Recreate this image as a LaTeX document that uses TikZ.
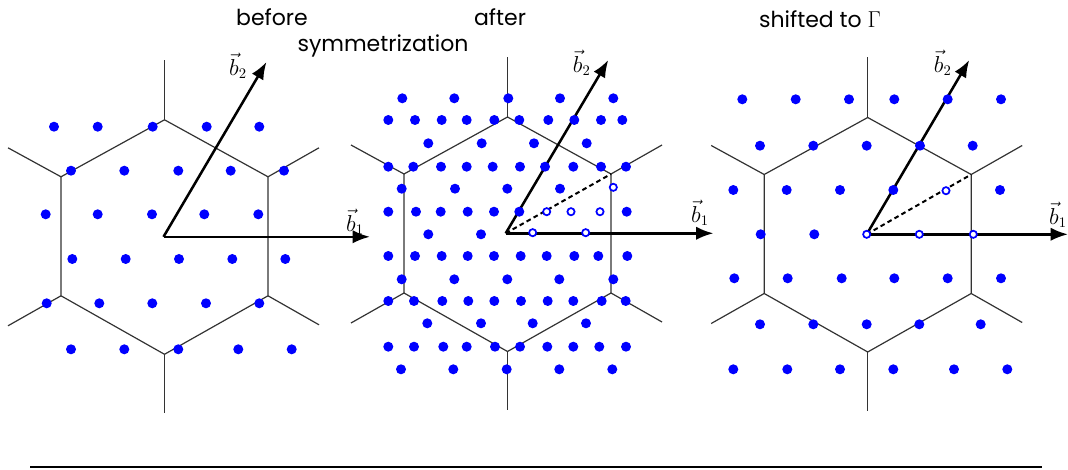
\documentclass[tikz,border=0pt]{standalone}
\usepackage{fontspec}
\newfontfamily\lblfont{Poppins}
\usetikzlibrary{arrows.meta}
\tikzset{
  hexline/.style={draw=black!80, line width=0.9pt},
  vecarrow/.style={draw=black, line width=1.9pt, -{Latex[length=13pt,width=10pt]}},
  dashline/.style={draw=black, line width=1.5pt, dash pattern=on 3.5pt off 2.5pt},
  dotfill/.style={fill=blue},
  opendot/.style={draw=blue, line width=1.3pt, fill=white},
  title/.style={font=\lblfont\fontsize{16.5}{19}\selectfont, inner sep=0pt},
  veclabel/.style={font=\fontsize{16}{19}\selectfont, inner sep=0pt},
  bzone/.pic={
    \coordinate (-t) at (0,-117);
    \coordinate (-ur) at (103.5,-60);
    \coordinate (-lr) at (103.5,59);
    \coordinate (-b) at (0,117.5);
    \coordinate (-ll) at (-103.5,59);
    \coordinate (-ul) at (-103.5,-60);
    \draw[hexline] (-t) -- (-ur) -- (-lr) -- (-b) -- (-ll) -- (-ul) -- cycle;
    \draw[hexline] (-t) -- ++(0,-60);
    \draw[hexline] (-b) -- ++(0,59);
    \draw[hexline] (-ur) -- ++(51,-29);
    \draw[hexline] (-lr) -- ++(51,29);
    \draw[hexline] (-ul) -- ++(-53,-29);
    \draw[hexline] (-ll) -- ++(-53,30);
  }
}
\begin{document}
\begin{tikzpicture}[x=0.75pt,y=-0.75pt]
\useasboundingbox (0,0) rectangle (1068,470);

% titles
\node[title] (tbefore) at (272,17) {before};
\node[title] (tafter) at (500,17) {after};
\node[title] (tsym) at (383,46) {symmetrization};
\node[title] (tshift) at (820,19) {shifted to $\Gamma$};

% Brillouin zones
\pic (P1) at (164.5,236.8) {bzone};
\pic (P2) at (507.5,234) {bzone};
\pic (P3) at (867.7,234.5) {bzone};

% panel 1 vectors
\coordinate (O1) at (163.5,236.8);
\coordinate (A1) at (370,236.8);
\coordinate (C1) at (266.5,62);
\draw[vecarrow] (O1) -- (A1);
\draw[vecarrow] (O1) -- (C1);
\node[veclabel] (lb1a) at (355,222) {$\vec{b}_1$};
\node[veclabel] (lb2a) at (238,66) {$\vec{b}_2$};

% panel 2 vectors
\coordinate (O2) at (505.7,233.3);
\coordinate (A2) at (713.5,233.3);
\coordinate (C2) at (608.3,60);
\draw[dashline] (O2) -- (P2-ur);
\draw[vecarrow] (O2) -- (A2);
\draw[vecarrow] (O2) -- (C2);
\node[veclabel] (lb1b) at (700,213) {$\vec{b}_1$};
\node[veclabel] (lb2b) at (581.7,63) {$\vec{b}_2$};

% panel 3 vectors
\coordinate (O3) at (866.7,234.3);
\coordinate (A3) at (1068,234.3);
\coordinate (C3) at (969.3,60);
\draw[dashline] (O3) -- (P3-ur);
\draw[vecarrow] (O3) -- (A3);
\draw[vecarrow] (O3) -- (C3);
\node[veclabel] (lb1c) at (1058,215) {$\vec{b}_1$};
\node[veclabel] (lb2c) at (942.7,63) {$\vec{b}_2$};

% panel 1 dots
\foreach \x/\y in {54/126.7, 97.7/126.7, 152.7/126.7, 206.7/126.7, 259.3/126.7,
71/170.7, 124.3/170.7, 178.3/170.7, 230.7/170.7, 284/170.7,
45.7/214.3, 97.7/214.3, 152/214.3, 204.3/214.3, 258.3/214.3,
72.3/259, 125.7/259, 179/259, 232.3/259, 285.3/259,
46.7/303.3, 99.3/303.3, 152.3/303.3, 206/303.3, 259.3/303.3,
71/349.3, 124.3/349.3, 178.3/349.3, 238.3/349.3, 291.7/349.3}
  \fill[dotfill] (\x,\y) circle (5);

% panel 2 dots
\foreach \x/\y in {402.3/98.3, 454.3/98.3, 508.3/98.3, 560/98.3, 613.3/98.3,
388.3/120, 415/120, 441.7/120, 466.7/120, 494.3/120, 519.3/120, 548.3/120, 574.3/120, 601/120, 622.3/120,
428.3/143.3, 481.7/143.3, 534/143.3, 586.7/143.3,
388.3/166.7, 413.3/166.7, 441/166.7, 466.7/166.7, 492.7/166.7, 520/166.7, 545/166.7, 573.3/166.7, 601/166.7, 626/166.7,
401.7/188.7, 455/188.7, 507.3/188.7, 560/188.7,
388.3/211.7, 416/211.7, 440.7/211.7, 467.7/211.7, 494/211.7, 519.3/211.7, 626.7/211.7,
428.3/234.3, 481/234.3,
388.3/256, 415/256, 441.7/256, 467.7/256, 494/256, 520.7/256, 546.7/256, 574.3/256, 598.3/256, 627.3/256,
401.7/279.3, 454.3/279.3, 507.3/279.3, 559.3/279.3, 613.3/279.3,
388.3/301, 414/301, 442.3/301, 468.3/301, 494.3/301, 521/301, 547.7/301, 573.3/301, 601.7/301, 625.7/301,
427.3/323.3, 481/323.3, 532.7/323.3, 586/323.3,
388.3/346.7, 414/346.7, 443.3/346.7, 466.7/346.7, 495/346.7, 520/346.7, 547.3/346.7, 573.3/346.7, 599.3/346.7, 626/346.7,
401/369.3, 453.3/369.3, 506.7/369.3, 559.3/369.3, 612.3/369.3}
  \fill[dotfill] (\x,\y) circle (5);
\foreach \x/\y in {546.7/211.7, 571/211.7, 600/211.7, 613.3/187.3, 532.7/232.7, 585.7/232.7}
  \filldraw[opendot] (\x,\y) circle (3.6);

% panel 3 dots
\foreach \x/\y in {742.3/99.3, 795.7/99.3, 849/99.3, 894.3/99.3, 947.7/99.3, 1001/99.3,
760/145.7, 813.3/145.7, 866.7/145.7, 920/145.7, 972.7/145.7,
733.3/190, 786.7/190, 840/190, 893.3/190, 1000/190,
760.7/234.3, 814.3/234.3,
734.3/278.3, 787.7/278.3, 841.7/278.3, 894.3/278.3, 947.7/278.3, 1001/278.3,
760/324.3, 813.3/324.3, 866.7/324.3, 919.3/324.3, 980.7/324.3,
733.3/369.3, 787.3/369.3, 840/369.3, 893.3/369.3, 954/369.3, 1007.3/369.3}
  \fill[dotfill] (\x,\y) circle (5);
\foreach \x/\y in {866.7/234.3, 919.3/234.3, 973.3/234.3, 946/190.7}
  \filldraw[opendot] (\x,\y) circle (3.6);

% bottom rule
\coordinate (R1) at (30,467);
\coordinate (R2) at (1042,467);
\draw[line width=1.1pt] (R1) -- (R2);
\end{tikzpicture}
\end{document}
